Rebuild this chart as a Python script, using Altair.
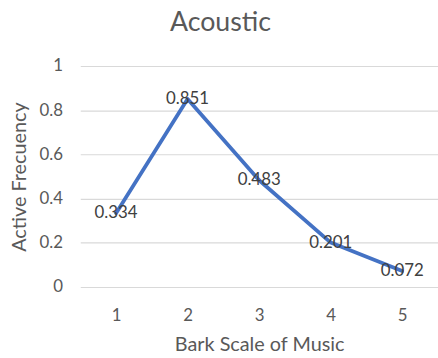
import altair as alt
import pandas as pd

# Bark scale bands and their measured active frequency
bark = [1, 2, 3, 4, 5]
active = [0.334, 0.851, 0.483, 0.201, 0.072]
labels = ["0.334", "0.851", "0.483", "0.201", "0.072"]

df = pd.DataFrame({"bark": bark, "active": active, "label": labels})

FONT = "Lato"
GREY = "#595959"

x_enc = alt.X(
    "bark:O",
    scale=alt.Scale(type="point", padding=0.5),
    axis=alt.Axis(
        title="Bark Scale of Music",
        labelAngle=0,
        labelFont=FONT,
        labelFontSize=17,
        labelColor=GREY,
        labelPadding=21,
        titleFont=FONT,
        titleFontSize=20,
        titleColor=GREY,
        titleFontWeight="normal",
        titlePadding=11,
        domain=False,
        ticks=False,
        grid=False,
    ),
)
y_enc = alt.Y(
    "active:Q",
    scale=alt.Scale(domain=[0, 1], nice=False),
    axis=alt.Axis(
        title="Active Frecuency",
        values=[0, 0.2, 0.4, 0.6, 0.8, 1],
        labelExpr="datum.value == 0 ? '0' : datum.value == 1 ? '1' : format(datum.value, '.1f')",
        labelFont=FONT,
        labelFontSize=17,
        labelColor=GREY,
        labelPadding=18,
        titleFont=FONT,
        titleFontSize=20,
        titleColor=GREY,
        titleFontWeight="normal",
        titlePadding=10,
        domain=False,
        ticks=False,
        grid=True,
        gridColor="#D9D9D9",
        gridWidth=1.2,
    ),
)

base = alt.Chart(df).encode(x=x_enc, y=y_enc)

line = base.mark_line(color="#4472C4", strokeWidth=3.8, strokeCap="round", strokeJoin="round")
text = base.mark_text(
    fontSize=17, color="#404040", font=FONT, align="center", baseline="middle"
).encode(text="label:N")

chart = (
    alt.layer(line, text)
    .properties(
        width=361,
        height=223,
        background="white",
        padding={"left": 81, "top": 65, "right": 0, "bottom": 70},
        autosize=alt.AutoSizeParams(type="none"),
        title=alt.TitleParams(
            "Acoustic", fontSize=27, color=GREY, font=FONT, fontWeight="normal",
            anchor="middle", offset=20, dx=-39,
        ),
    )
    .configure_view(stroke="transparent", strokeWidth=0)
)

chart.save("out.html", embed_options={"renderer": "svg", "actions": False})
